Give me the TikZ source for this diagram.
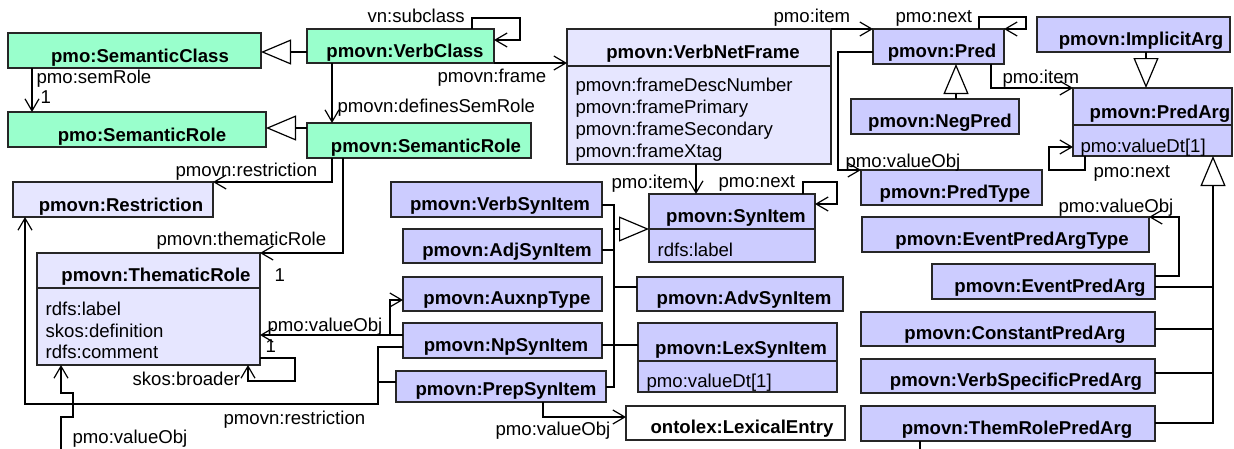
\documentclass[tikz,border=0pt]{standalone}
\usepackage{fontspec}
\setmainfont{Liberation Sans}
\usetikzlibrary{arrows.meta}
\definecolor{cgreen}{HTML}{99FFCC}
\definecolor{cpurple}{HTML}{CCCCFF}
\definecolor{clight}{HTML}{E6E6FF}
\newcommand\umlbox[6]{\node[box, fill=#6, minimum width={(#4-#2)*1pt}, minimum height={(#5-#3)*1pt}] (#1) at (#2,#3) {};}
\begin{document}
\begin{tikzpicture}[x=1pt,y=-1pt, line width=1.2pt,
  box/.style={draw=black!85, line width=1.2pt, inner sep=0pt, outer sep=0pt, anchor=north west},
  nm/.style={anchor=base, font=\fontsize{18.6}{22}\selectfont\bfseries, inner sep=0pt},
  lb/.style={anchor=base west, font=\fontsize{18.6}{22}\selectfont, inner sep=0pt},
  nav/.style={draw=black, -{Straight Barb[length=12pt,width=14pt]}},
  gen/.style={draw=black, -{Triangle[length=30pt,width=25pt,fill=white]}},
  ln/.style={draw=black},
  dv/.style={draw=black!85, line width=1.2pt}]
\useasboundingbox[fill=white] (0,0) rectangle (1234,448);
% ---------- boxes ----------
\umlbox{sc}{8}{33}{261}{68}{cgreen}
\umlbox{sr}{8}{112}{266}{147}{cgreen}
\umlbox{vc}{307}{29}{494}{63}{cgreen}
\umlbox{vsr}{307}{123}{531}{158}{cgreen}
\umlbox{vnf}{567}{29}{831}{164}{clight}
\umlbox{res}{13}{182}{213}{217}{clight}
\umlbox{tr}{37}{253}{260}{365}{clight}
\umlbox{pred}{873}{29}{1004}{64}{cpurple}
\umlbox{impl}{1037}{17}{1230}{52}{cpurple}
\umlbox{negp}{851}{99}{1019}{134}{cpurple}
\umlbox{parg}{1073}{88}{1232}{156}{cpurple}
\umlbox{ptype}{861}{170}{1042}{205}{cpurple}
\umlbox{epat}{862}{217}{1149}{252}{cpurple}
\umlbox{epa}{932}{264}{1155}{299}{cpurple}
\umlbox{cpa}{861}{312}{1155}{346}{cpurple}
\umlbox{vspa}{861}{359}{1155}{393}{cpurple}
\umlbox{trpa}{861}{406}{1155}{441}{cpurple}
\umlbox{syn}{649}{194}{815}{262}{cpurple}
\umlbox{vsyn}{391}{182}{602}{217}{cpurple}
\umlbox{adj}{403}{229}{602}{263}{cpurple}
\umlbox{aux}{403}{277}{602}{311}{cpurple}
\umlbox{adv}{637}{277}{843}{311}{cpurple}
\umlbox{np}{403}{323}{602}{358}{cpurple}
\umlbox{lex}{638}{323}{837}{392}{cpurple}
\umlbox{prep}{396}{371}{606}{402}{cpurple}
\umlbox{lexent}{626}{406}{845}{440}{white}
% dividers
\draw[dv] (vnf.west |- 0,66) -- (vnf.east |- 0,66);
\draw[dv] (tr.west |- 0,288) -- (tr.east |- 0,288);
\draw[dv] (parg.west |- 0,125) -- (parg.east |- 0,125);
\draw[dv] (syn.west |- 0,229) -- (syn.east |- 0,229);
\draw[dv] (lex.west |- 0,361) -- (lex.east |- 0,361);
% ---------- names ----------
\node[nm] (t-sc) at (140,62) {pmo:SemanticClass};
\node[nm] (t-sr) at (142,141) {pmo:SemanticRole};
\node[nm] (t-vc) at (405,57) {pmovn:VerbClass};
\node[nm] (t-vsr) at (426,152) {pmovn:SemanticRole};
\node[nm] (t-vnf) at (703,58) {pmovn:VerbNetFrame};
\node[nm] (t-res) at (121,211) {pmovn:Restriction};
\node[nm] (t-tr) at (156,281) {pmovn:ThematicRole};
\node[nm] (t-pred) at (942,57) {pmovn:Pred};
\node[nm] (t-impl) at (1141,45) {pmovn:ImplicitArg};
\node[nm] (t-negp) at (940,127) {pmovn:NegPred};
\node[nm] (t-parg) at (1160,118) {pmovn:PredArg};
\node[nm] (t-ptype) at (955,198) {pmovn:PredType};
\node[nm] (t-epat) at (1012,245) {pmovn:EventPredArgType};
\node[nm] (t-epa) at (1050,292) {pmovn:EventPredArg};
\node[nm] (t-cpa) at (1015,339) {pmovn:ConstantPredArg};
\node[nm] (t-vspa) at (1016,386) {pmovn:VerbSpecificPredArg};
\node[nm] (t-trpa) at (1017,434) {pmovn:ThemRolePredArg};
\node[nm] (t-syn) at (736,222) {pmovn:SynItem};
\node[nm] (t-vsyn) at (500,210) {pmovn:VerbSynItem};
\node[nm] (t-adj) at (507,256) {pmovn:AdjSynItem};
\node[nm] (t-aux) at (507,304) {pmovn:AuxnpType};
\node[nm] (t-adv) at (744,304) {pmovn:AdvSynItem};
\node[nm] (t-np) at (506,351) {pmovn:NpSynItem};
\node[nm] (t-lex) at (741,354) {pmovn:LexSynItem};
\node[nm] (t-prep) at (506,395) {pmovn:PrepSynItem};
\node[nm] (t-lexent) at (742,433) {ontolex:LexicalEntry};
% ---------- attributes ----------
\node[lb] (a-vnf1) at (575,91) {pmovn:frameDescNumber};
\node[lb] (a-vnf2) at (575,113) {pmovn:framePrimary};
\node[lb] (a-vnf3) at (575,135) {pmovn:frameSecondary};
\node[lb] (a-vnf4) at (575,157) {pmovn:frameXtag};
\node[lb] (a-tr1) at (45,315) {rdfs:label};
\node[lb] (a-tr2) at (45,337) {skos:definition};
\node[lb] (a-tr3) at (45,358) {rdfs:comment};
\node[lb] (a-parg) at (1080,152) {pmo:valueDt[1]};
\node[lb] (a-syn) at (657,256) {rdfs:label};
\node[lb] (a-lex) at (646,387) {pmo:valueDt[1]};
% ---------- connectors ----------
\draw[gen] (vc.west |- 0,52) -- (sc.east |- 0,52);
\draw[gen] (vsr.west |- 0,128) -- (sr.east |- 0,128);
\draw[nav] (sc.south -| 32,0) -- (sr.north -| 32,0);
\draw[nav] (vc.south -| 332,0) -- (vsr.north -| 332,0);
\draw[nav] (vc.north -| 472,0) |- (520,18) |- (vc.east |- 0,40);
\draw[nav] (vc.south east) -- (vnf.west |- vc.south east);
\draw[nav] (vnf.north east) -- (pred.north west);
\draw[nav] (pred.north -| 979,0) |- (1026,17) |- (pred.north east);
\draw[gen] (negp.north -| 956,0) -- (pred.south -| 956,0);
\draw[nav] (pred.south -| 991,0) |- (parg.north west);
\draw[nav] (pred.west |- 0,52) -| (838,170) -- (ptype.north west);
\draw[gen] (impl.south -| 1146,0) -- (parg.north -| 1146,0);
\draw[nav] (parg.south -| 1085,0) |- (1049,170) |- (parg.west |- 0,147);
\draw[gen] (trpa.east |- 0,423) -| (parg.south -| 1213,0);
\draw[ln] (epa.east |- 0,287) -- (1213,287);
\draw[ln] (cpa.east |- 0,329) -- (1213,329);
\draw[ln] (vspa.east |- 0,373) -- (1213,373);
\draw[nav] (epa.east |- 0,276) -| (1179,217) -- (epat.north east);
\draw[nav] (vnf.south -| 696,0) -- (syn.north -| 696,0);
\draw[nav] (syn.north -| 803,0) |- (837,182) |- (syn.east |- 0,204);
\draw[gen] (vsyn.east |- 0,205) -| (614,229) -- (syn.west |- 0,229);
\draw[ln] (614,229) -- (614,387) -- (prep.east |- 0,387);
\draw[ln] (adj.east |- 0,250) -- (614,250);
\draw[ln] (614,287) -- (adv.west |- 0,287);
\draw[ln] (np.east |- 0,345) -- (lex.west |- 0,345);
\draw[nav] (prep.south -| 543,0) |- (lexent.west |- 0,417);
\draw[nav] (np.west |- 0,335) -- (tr.east |- 0,335);
\draw[nav] (np.west |- 0,335) -| (390,300) -- (aux.west |- 0,300);
\draw[nav] (vsr.south -| 332,0) |- (res.north east);
\draw[nav] (vsr.south -| 343,0) |- (tr.north east);
\draw[nav] (tr.east |- 0,358) -| (295,381) -| (tr.south -| 248,0);
\draw[ln] (np.west |- 0,347) -| (378,382);
\draw[nav] (prep.west |- 0,382) -| (378,404) -| (res.south -| 25,0);
\draw[nav] (trpa.south -| 920,0) -- (920,460) -| (61,417) -- (73,417) -- (73,393) -- (61,393) -- (tr.south -| 61,0);
% ---------- labels ----------
\node[lb] (l1) at (367,22) {vn:subclass};
\node[lb] (l2) at (36,83) {pmo:semRole};
\node[lb] (l3) at (40,103) {1};
\node[lb] (l4) at (437,82) {pmovn:frame};
\node[lb] (l5) at (337,112) {pmovn:definesSemRole};
\node[lb] (l6) at (773,22) {pmo:item};
\node[lb] (l7) at (895,22) {pmo:next};
\node[lb] (l8) at (1002,83) {pmo:item};
\node[lb] (l9) at (845,167) {pmo:valueObj};
\node[lb] (l10) at (1093,177) {pmo:next};
\node[lb] (l11) at (175,176) {pmovn:restriction};
\node[lb] (l12) at (156,245) {pmovn:thematicRole};
\node[lb] (l13) at (274,281) {1};
\node[lb] (l14) at (611,188) {pmo:item};
\node[lb] (l15) at (718,187) {pmo:next};
\node[lb] (l16) at (267,331) {pmo:valueObj};
\node[lb] (l17) at (265,352) {1};
\node[lb] (l18) at (132,385) {skos:broader};
\node[lb] (l19) at (223,424) {pmovn:restriction};
\node[lb] (l20) at (72,443) {pmo:valueObj};
\node[lb] (l21) at (495,435) {pmo:valueObj};
\node[lb] (l22) at (1058,212) {pmo:valueObj};
\end{tikzpicture}
\end{document}
